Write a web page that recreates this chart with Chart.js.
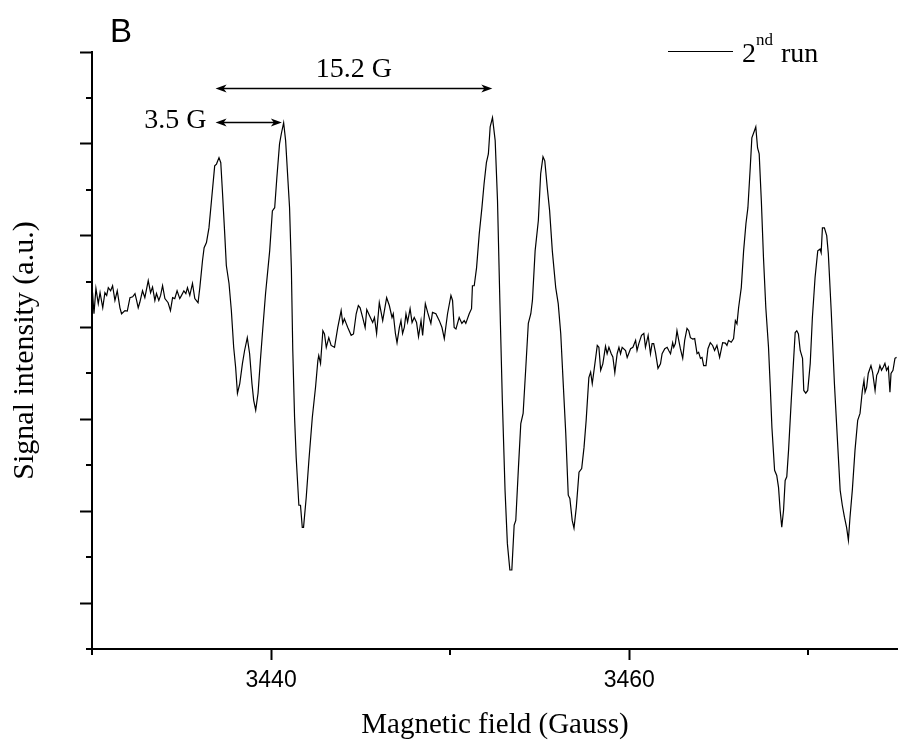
<!DOCTYPE html>
<html>
<head>
<meta charset="utf-8">
<title>EPR spectrum B</title>
<script src="https://cdn.jsdelivr.net/npm/chart.js@4.4.1/dist/chart.umd.min.js"></script>
<style>
  html, body { margin: 0; padding: 0; background: #fff; }
  #wrap { width: 898px; height: 743px; }
</style>
</head>
<body>
<div id="wrap"><canvas id="epr" width="898" height="743"></canvas></div>
<script>
//==================================================Data (2nd run trace)
// magnetic field in Gauss
var field = [
    3430.03,
    3430.11, 3430.22, 3430.35, 3430.45, 3430.60, 3430.72, 3430.82, 3430.91, 3431.04, 3431.15,
    3431.28, 3431.41, 3431.56, 3431.65, 3431.84, 3431.97, 3432.12, 3432.27, 3432.40, 3432.49,
    3432.58, 3432.67, 3432.82, 3432.95, 3433.14, 3433.27, 3433.38, 3433.51, 3433.60, 3433.73,
    3433.83, 3433.94, 3434.07, 3434.25, 3434.38, 3434.50, 3434.62, 3434.75, 3434.90, 3435.00,
    3435.13, 3435.24, 3435.33, 3435.46, 3435.61, 3435.74, 3435.92, 3436.02, 3436.17, 3436.26,
    3436.39, 3436.53, 3436.67, 3436.85, 3436.95, 3437.09, 3437.19, 3437.28, 3437.41, 3437.50,
    3437.65, 3437.78, 3437.91, 3438.02, 3438.12, 3438.25, 3438.40, 3438.52, 3438.67, 3438.80,
    3438.93, 3439.03, 3439.14, 3439.27, 3439.40, 3439.54, 3439.69, 3439.92, 3440.07, 3440.20,
    3440.32, 3440.47, 3440.57, 3440.70, 3440.81, 3440.94, 3441.03, 3441.13, 3441.21, 3441.31,
    3441.40, 3441.55, 3441.64, 3441.74, 3441.81, 3441.96, 3442.11, 3442.30, 3442.48, 3442.61,
    3442.66, 3442.76, 3442.89, 3442.98, 3443.08, 3443.22, 3443.35, 3443.54, 3443.72, 3443.91,
    3444.00, 3444.09, 3444.19, 3444.28, 3444.47, 3444.60, 3444.75, 3444.87, 3444.97, 3445.11,
    3445.25, 3445.34, 3445.49, 3445.67, 3445.77, 3445.89, 3446.04, 3446.23, 3446.45, 3446.60,
    3446.75, 3446.82, 3446.94, 3447.03, 3447.16, 3447.25, 3447.34, 3447.44, 3447.53, 3447.62,
    3447.76, 3447.87, 3447.99, 3448.12, 3448.23, 3448.37, 3448.46, 3448.61, 3448.74, 3448.92,
    3449.01, 3449.20, 3449.39, 3449.54, 3449.67, 3449.85, 3450.04, 3450.13, 3450.22, 3450.32,
    3450.50, 3450.65, 3450.78, 3450.87, 3451.06, 3451.19, 3451.24, 3451.34, 3451.47, 3451.62,
    3451.77, 3451.89, 3452.02, 3452.13, 3452.23, 3452.36, 3452.51, 3452.64, 3452.77, 3452.91,
    3453.06, 3453.19, 3453.33, 3453.44, 3453.57, 3453.66, 3453.81, 3453.94, 3454.07, 3454.22,
    3454.36, 3454.50, 3454.59, 3454.74, 3454.92, 3455.05, 3455.18, 3455.28, 3455.42, 3455.55,
    3455.70, 3455.89, 3456.03, 3456.17, 3456.30, 3456.45, 3456.59, 3456.68, 3456.81, 3456.91,
    3457.04, 3457.19, 3457.34, 3457.47, 3457.59, 3457.74, 3457.84, 3457.93, 3458.08, 3458.21,
    3458.30, 3458.40, 3458.52, 3458.67, 3458.76, 3458.86, 3458.99, 3459.08, 3459.19, 3459.32,
    3459.42, 3459.51, 3459.60, 3459.79, 3459.88, 3460.07, 3460.20, 3460.35, 3460.43, 3460.53,
    3460.68, 3460.81, 3460.90, 3461.05, 3461.18, 3461.27, 3461.36, 3461.46, 3461.60, 3461.74,
    3461.83, 3461.98, 3462.11, 3462.20, 3462.30, 3462.42, 3462.48, 3462.57, 3462.66, 3462.76,
    3462.85, 3462.98, 3463.09, 3463.22, 3463.32, 3463.41, 3463.54, 3463.65, 3463.78, 3463.87,
    3463.97, 3464.06, 3464.15, 3464.28, 3464.39, 3464.52, 3464.65, 3464.76, 3464.89, 3465.04,
    3465.21, 3465.36, 3465.45, 3465.54, 3465.69, 3465.82, 3465.92, 3466.01, 3466.10, 3466.25,
    3466.38, 3466.51, 3466.62, 3466.75, 3466.84, 3466.98, 3467.06, 3467.16, 3467.25, 3467.37,
    3467.49, 3467.62, 3467.77, 3467.87, 3467.96, 3468.11, 3468.23, 3468.33, 3468.42, 3468.51,
    3468.61, 3468.70, 3468.79, 3468.89, 3469.04, 3469.16, 3469.26, 3469.35, 3469.44, 3469.54,
    3469.67, 3469.74, 3469.85, 3469.96, 3470.10, 3470.22, 3470.37, 3470.52, 3470.65, 3470.71,
    3470.78, 3470.89, 3471.02, 3471.11, 3471.27, 3471.45, 3471.62, 3471.77, 3471.89, 3472.01,
    3472.13, 3472.23, 3472.32, 3472.45, 3472.60, 3472.75, 3472.88, 3473.01, 3473.10, 3473.16,
    3473.25, 3473.34, 3473.49, 3473.58, 3473.72, 3473.81, 3473.90, 3473.99, 3474.08, 3474.18,
    3474.27, 3474.36, 3474.46, 3474.55, 3474.61, 3474.72, 3474.83, 3474.92
];

// signal intensity, arbitrary units
var signal = [
    7.76,
    7.30, 7.85, 7.52, 7.76, 7.43, 7.76, 7.70, 7.87, 7.80, 7.91,
    7.59, 7.80, 7.43, 7.30, 7.37, 7.36, 7.65, 7.67, 7.74, 7.59,
    7.43, 7.55, 7.80, 7.65, 8.02, 7.76, 7.88, 7.59, 7.74, 7.59,
    7.70, 7.91, 7.63, 7.54, 7.37, 7.65, 7.63, 7.80, 7.63, 7.70,
    7.80, 7.74, 7.87, 7.70, 7.96, 7.63, 7.54, 7.87, 8.46, 8.74,
    8.85, 9.17, 9.76, 10.52, 10.56, 10.70, 10.59, 9.98, 9.04, 8.35,
    7.96, 7.37, 6.57, 6.13, 5.57, 5.78, 6.22, 6.50, 6.78, 6.43,
    5.78, 5.41, 5.20, 5.57, 6.28, 7.00, 7.74, 8.67, 9.54, 9.61,
    10.26, 11.00, 11.22, 11.46, 11.07, 10.20, 9.61, 8.30, 6.50, 5.04,
    4.17, 3.13, 3.13, 2.65, 2.65, 3.30, 4.11, 5.04, 5.70, 6.28,
    6.39, 6.22, 6.93, 6.86, 6.57, 6.78, 6.61, 6.57, 7.00, 7.37,
    7.09, 7.19, 7.09, 7.00, 6.83, 6.86, 7.30, 7.48, 7.43, 7.22,
    7.00, 7.39, 7.26, 7.11, 7.22, 6.87, 7.54, 7.15, 7.65, 7.48,
    7.22, 7.30, 6.87, 6.67, 7.00, 7.15, 6.87, 7.01, 7.30, 7.12,
    7.41, 7.11, 7.22, 7.11, 6.80, 7.15, 6.83, 7.52, 7.33, 7.09,
    7.33, 7.30, 7.15, 7.00, 6.76, 7.30, 7.70, 7.59, 7.00, 6.97,
    7.22, 7.09, 7.15, 7.09, 7.30, 7.41, 7.91, 7.91, 8.30, 9.04,
    9.61, 10.13, 10.59, 10.78, 11.37, 11.57, 11.07, 9.76, 7.59, 5.41,
    3.46, 2.30, 1.72, 1.72, 2.70, 2.80, 3.96, 4.91, 5.13, 6.13,
    7.09, 7.30, 7.59, 8.67, 9.33, 10.35, 10.72, 10.63, 10.04, 9.54,
    8.67, 7.87, 7.52, 6.87, 5.85, 4.70, 3.35, 3.28, 2.80, 2.63,
    3.09, 3.85, 3.93, 4.39, 4.98, 5.91, 6.03, 5.78, 6.22, 6.61,
    6.57, 6.07, 6.21, 6.59, 6.43, 6.57, 6.43, 6.36, 6.02, 6.43,
    6.57, 6.43, 6.57, 6.50, 6.35, 6.54, 6.57, 6.72, 6.50, 6.65,
    6.83, 6.87, 6.57, 6.83, 6.43, 6.65, 6.65, 6.46, 6.11, 6.21,
    6.43, 6.54, 6.57, 6.50, 6.43, 6.67, 6.57, 6.65, 6.93, 6.72,
    6.54, 6.33, 6.72, 6.98, 6.93, 6.78, 6.75, 6.76, 6.43, 6.46,
    6.33, 6.35, 6.17, 6.17, 6.54, 6.67, 6.61, 6.50, 6.61, 6.35,
    6.67, 6.66, 6.61, 6.72, 6.68, 6.76, 7.15, 7.08, 7.43, 7.87,
    8.67, 9.26, 9.61, 10.48, 11.13, 11.28, 11.37, 10.91, 10.78, 9.76,
    8.52, 7.43, 6.57, 5.70, 4.83, 3.89, 3.78, 3.52, 3.02, 2.65,
    3.02, 3.67, 3.75, 4.33, 5.41, 6.22, 6.89, 6.93, 6.86, 6.50,
    6.33, 5.63, 5.57, 5.63, 6.22, 7.22, 8.09, 8.67, 8.71, 8.63,
    9.17, 9.17, 9.00, 8.61, 7.37, 5.78, 4.54, 3.46, 3.13, 2.87,
    2.65, 2.37, 2.87, 3.46, 4.33, 4.98, 5.13, 5.63, 5.85, 5.59,
    5.70, 6.00, 6.17, 6.03, 5.63, 5.96, 6.03, 6.17, 6.07, 6.14,
    6.22, 6.07, 6.14, 5.59, 6.00, 6.07, 6.33, 6.35
];

// axis ticks
var fieldTicks = [3430, 3440, 3450, 3460, 3470];
var fieldLabels = [3440, 3460];
var signalTicks = [0, 1, 2, 3, 4, 5, 6, 7, 8, 9, 10, 11, 12, 13];
var signalMajor = [1, 3, 5, 7, 9, 11, 13];

// splitting markers (from field, to field, level, text)
var splitFrom = [3436.9, 3436.9];
var splitTo = [3440.6, 3452.35];
var splitLevel = [11.48, 12.22];
var splitText = ['3.5 G', '15.2 G'];

//==================================================Extra drawing (minor ticks, arrows, legend, panel letter)
function arrowHead(ctx, x, y, dir) {
    ctx.beginPath();
    ctx.moveTo(x, y);
    ctx.lineTo(x + dir * 11, y - 4);
    ctx.lineTo(x + dir * 8, y);
    ctx.lineTo(x + dir * 11, y + 4);
    ctx.closePath();
    ctx.fill();
}

var extras = {
    id: 'extras',
    afterDraw: function(chart) {
        var ctx = chart.ctx;
        var xs = chart.scales.x;
        var ys = chart.scales.y;
        var area = chart.chartArea;
        ctx.save();
        ctx.strokeStyle = '#000';
        ctx.fillStyle = '#000';

        // minor ticks
        ctx.lineWidth = 2;
        signalTicks.forEach(function(v) {
            if (signalMajor.indexOf(v) >= 0) return;
            var py = Math.round(ys.getPixelForValue(v));
            ctx.beginPath();
            ctx.moveTo(area.left - 6, py);
            ctx.lineTo(area.left, py);
            ctx.stroke();
        });
        fieldTicks.forEach(function(v) {
            if (fieldLabels.indexOf(v) >= 0) return;
            var px = Math.round(xs.getPixelForValue(v));
            ctx.beginPath();
            ctx.moveTo(px, area.bottom);
            ctx.lineTo(px, area.bottom + 6);
            ctx.stroke();
        });

        // splitting arrows
        ctx.lineWidth = 1.6;
        ctx.font = '28px "Liberation Serif"';
        for (var i = 0; i < splitText.length; i++) {
            var x1 = xs.getPixelForValue(splitFrom[i]);
            var x2 = xs.getPixelForValue(splitTo[i]);
            var y = Math.round(ys.getPixelForValue(splitLevel[i])) + 0.5;
            ctx.beginPath();
            ctx.moveTo(x1 + 6, y);
            ctx.lineTo(x2 - 6, y);
            ctx.stroke();
            arrowHead(ctx, x1, y, 1);
            arrowHead(ctx, x2, y, -1);
            if (i === 0) {
                ctx.textAlign = 'right';
                ctx.fillText(splitText[i], x1 - 9, y + 5);
            } else {
                ctx.textAlign = 'center';
                ctx.fillText(splitText[i], (x1 + x2) / 2, y - 12);
            }
        }

        // legend
        ctx.lineWidth = 1;
        ctx.beginPath();
        ctx.moveTo(668, 51.5);
        ctx.lineTo(733, 51.5);
        ctx.stroke();
        ctx.textAlign = 'left';
        ctx.font = '28px "Liberation Serif"';
        ctx.fillText('2', 742, 62);
        ctx.font = '17px "Liberation Serif"';
        ctx.fillText('nd', 756, 45);
        ctx.font = '28px "Liberation Serif"';
        ctx.fillText('run', 781, 62);

        // panel letter
        ctx.font = '33px "Liberation Sans"';
        ctx.fillText('B', 110, 42);
        ctx.restore();
    }
};

//==================================================Chart
var ctx1 = document.getElementById('epr');
var eprChart = new Chart(ctx1, {
    type: 'line',
    data: {
        datasets: [{
            label: '2nd run',
            data: field.map(function(v, i) {
                return { x: v, y: signal[i] };
            }),
            borderColor: '#000',
            borderWidth: 1.2,
            pointRadius: 0,
            tension: 0,
            fill: false
        }]
    },
    options: {
        responsive: false,
        animation: false,
        layout: { padding: { left: 0, top: 52, right: 0, bottom: 0 } },
        plugins: {
            legend: { display: false },
            tooltip: { enabled: false }
        },
        scales: {
            x: {
                type: 'linear',
                min: 3430,
                max: 3475,
                afterBuildTicks: function(s) {
                    s.ticks = fieldTicks.map(function(v) { return { value: v }; });
                },
                afterFit: function(s) { s.height = 94; },
                grid: {
                    drawOnChartArea: false,
                    drawTicks: true,
                    tickLength: 11,
                    tickWidth: 2,
                    tickColor: function(c) {
                        return c.tick && fieldLabels.indexOf(c.tick.value) >= 0 ? '#000' : 'rgba(0,0,0,0)';
                    }
                },
                border: { display: true, color: '#000', width: 2 },
                ticks: {
                    autoSkip: false,
                    maxRotation: 0,
                    padding: 7,
                    color: '#000',
                    font: { family: 'Liberation Sans', size: 23 },
                    callback: function(v) {
                        return fieldLabels.indexOf(v) >= 0 ? String(v) : '';
                    }
                },
                title: {
                    display: true,
                    text: 'Magnetic field (Gauss)',
                    color: '#000',
                    font: { family: 'Liberation Serif', size: 29 },
                    padding: { top: 0, bottom: 0 }
                }
            },
            y: {
                type: 'linear',
                min: 0,
                max: 13,
                afterBuildTicks: function(s) {
                    s.ticks = signalTicks.map(function(v) { return { value: v }; });
                },
                afterFit: function(s) { s.width = 92; },
                grid: {
                    drawOnChartArea: false,
                    drawTicks: true,
                    tickLength: 12,
                    tickWidth: 2,
                    tickColor: function(c) {
                        return c.tick && signalMajor.indexOf(c.tick.value) >= 0 ? '#000' : 'rgba(0,0,0,0)';
                    }
                },
                border: { display: true, color: '#000', width: 2 },
                ticks: { display: false },
                title: {
                    display: true,
                    text: 'Signal intensity (a.u.)',
                    color: '#000',
                    font: { family: 'Liberation Serif', size: 30 },
                    padding: { top: 7, bottom: 0 }
                }
            }
        }
    },
    plugins: [extras]
});
</script>
</body>
</html>
